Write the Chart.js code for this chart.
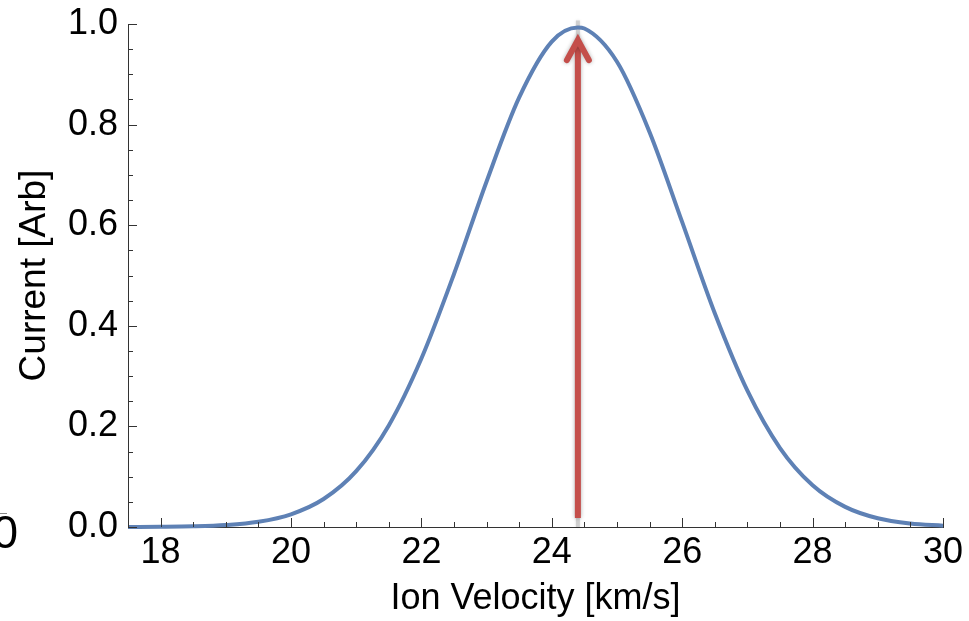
<!DOCTYPE html>
<html>
<head>
<meta charset="utf-8">
<script src="https://cdn.jsdelivr.net/npm/chart.js@4.4.1/dist/chart.umd.min.js"></script>
<style>
  html, body { margin:0; padding:0; background:#fff; }
  #wrap { width:969px; height:621px; }
</style>
</head>
<body>
<div id="wrap"><canvas id="chart" width="969" height="621"></canvas></div>
<script>
// ── Data ───────────────────────────────────────────────────────
const velocity = [17.5, 18, 18.5, 19, 19.5, 20, 20.5, 21, 21.5, 22, 22.5, 23, 23.5, 24, 24.4,
                  24.5, 25, 25.5, 26, 26.5, 27, 27.5, 28, 28.5, 29, 29.5, 30];
const current  = [0.0001, 0.0004, 0.0013, 0.0039, 0.0104, 0.0253, 0.0556, 0.111, 0.202, 0.335,
                  0.503, 0.687, 0.854, 0.965, 0.993, 0.991, 0.925, 0.785, 0.606, 0.425, 0.271,
                  0.157, 0.083, 0.040, 0.0173, 0.0069, 0.0025];
const xTicks = [18, 20, 22, 24, 26, 28, 30];
const yTicks = [0, 0.2, 0.4, 0.6, 0.8, 1.0];
const xMinorStep = 0.5, yMinorStep = 0.05;

const peakVelocity = 24.4;   // arrow position
const arrowFrom = 0.018, arrowTo = 0.97;
const markerTop = 1.007;     // faint grey line behind the arrow

const FONT = '"Liberation Sans", Arial, Helvetica, sans-serif';
const C = { curve:'#5e81b5', arrow:'#c44e4a', axis:'#333', marker:'rgba(200,200,200,0.8)' };

// ── Plugins ────────────────────────────────────────────────────
const markerPlugin = {
  id:'marker',
  beforeDatasetsDraw(chart) {
    const { ctx, scales:{ x, y } } = chart;
    const px = x.getPixelForValue(peakVelocity);
    ctx.save();
    ctx.strokeStyle = C.marker;
    ctx.lineWidth = 4;
    ctx.shadowColor = 'rgba(0,0,0,0.15)';
    ctx.shadowBlur = 3;
    ctx.beginPath();
    ctx.moveTo(px, y.getPixelForValue(markerTop));
    ctx.lineTo(px, y.getPixelForValue(0));
    ctx.stroke();
    ctx.restore();
  },
  afterDatasetsDraw(chart) {
    const { ctx, scales:{ x, y } } = chart;
    const px  = x.getPixelForValue(peakVelocity);
    const y0  = y.getPixelForValue(arrowFrom);
    const y1  = y.getPixelForValue(arrowTo);
    ctx.save();
    ctx.strokeStyle = C.arrow;
    ctx.lineWidth = 6;
    ctx.shadowColor = 'rgba(0,0,0,0.3)';
    ctx.shadowBlur = 4;
    ctx.beginPath();
    ctx.moveTo(px, y0); ctx.lineTo(px, y1 + 2);
    ctx.stroke();
    ctx.lineCap = 'round'; ctx.lineJoin = 'miter';
    ctx.beginPath();
    ctx.moveTo(px - 11, y1 + 21);
    ctx.lineTo(px, y1 + 1);
    ctx.lineTo(px + 11, y1 + 21);
    ctx.stroke();
    ctx.restore();
  },
  afterDraw(chart) {
    const { ctx, chartArea:a, scales:{ x, y } } = chart;
    ctx.save();
    ctx.strokeStyle = C.axis;
    ctx.lineWidth = 1;
    // inward ticks
    for (let v = x.min; v <= x.max + 1e-9; v += xMinorStep) {
      const px = Math.round(x.getPixelForValue(v)) + 0.5;
      const len = xTicks.some(t => Math.abs(t - v) < 1e-6) ? 9 : 5;
      ctx.beginPath(); ctx.moveTo(px, a.bottom); ctx.lineTo(px, a.bottom - len); ctx.stroke();
    }
    for (let v = y.min; v <= y.max + 1e-9; v += yMinorStep) {
      const py = Math.round(y.getPixelForValue(v)) + 0.5;
      const len = yTicks.some(t => Math.abs(t - v) < 1e-6) ? 9 : 5;
      ctx.beginPath(); ctx.moveTo(a.left, py); ctx.lineTo(a.left + len, py); ctx.stroke();
    }
    // stray label fragment at the far left
    ctx.fillStyle = '#000';
    ctx.font = '46px ' + FONT;
    ctx.textAlign = 'right'; ctx.textBaseline = 'alphabetic';
    ctx.fillText('0', 18, 548);
    ctx.strokeStyle = '#888';
    ctx.beginPath(); ctx.moveTo(0, 513.5); ctx.lineTo(7, 513.5); ctx.stroke();
    ctx.restore();
  }
};

// ── Chart ──────────────────────────────────────────────────────
new Chart(document.getElementById('chart').getContext('2d'), {
  type:'scatter',
  data:{ datasets:[{
    data: velocity.map((v,i) => ({ x:v, y:current[i] })),
    showLine:true, borderColor:C.curve, borderWidth:4, pointRadius:0,
    cubicInterpolationMode:'monotone', clip:false,
  }]},
  options:{
    responsive:false, animation:false, devicePixelRatio:1,
    layout:{ padding:{ left:0, top:24, right:26, bottom:0 } },
    plugins:{ legend:{ display:false }, tooltip:{ enabled:false } },
    scales:{
      x:{
        type:'linear', min:17.5, max:30,
        afterBuildTicks: s => { s.ticks = xTicks.map(v => ({ value:v })); },
        afterFit: s => { s.height = 94; s.paddingLeft = 0; s.paddingRight = 0; },
        grid:{ display:false, drawTicks:false },
        border:{ display:true, color:C.axis, width:1 },
        ticks:{ color:'#000', font:{ family:FONT, size:36 }, padding:4, maxRotation:0, autoSkip:false },
        title:{ display:true, text:'Ion Velocity [km/s]', color:'#000',
                font:{ family:FONT, size:36 }, padding:{ top:4, bottom:0 } },
      },
      y:{
        type:'linear', min:0, max:1,
        afterBuildTicks: s => { s.ticks = yTicks.map(v => ({ value:v })); },
        afterFit: s => { s.width = 128; s.paddingTop = 0; s.paddingBottom = 0; },
        grid:{ display:false, drawTicks:false },
        border:{ display:true, color:C.axis, width:1 },
        ticks:{ color:'#000', font:{ family:FONT, size:36 }, padding:10, callback:v => v.toFixed(1) },
        title:{ display:true, text:'Current [Arb]', color:'#000',
                font:{ family:FONT, size:37 }, padding:{ top:13, bottom:12 } },
      },
    },
  },
  plugins:[markerPlugin],
});
</script>
</body>
</html>
